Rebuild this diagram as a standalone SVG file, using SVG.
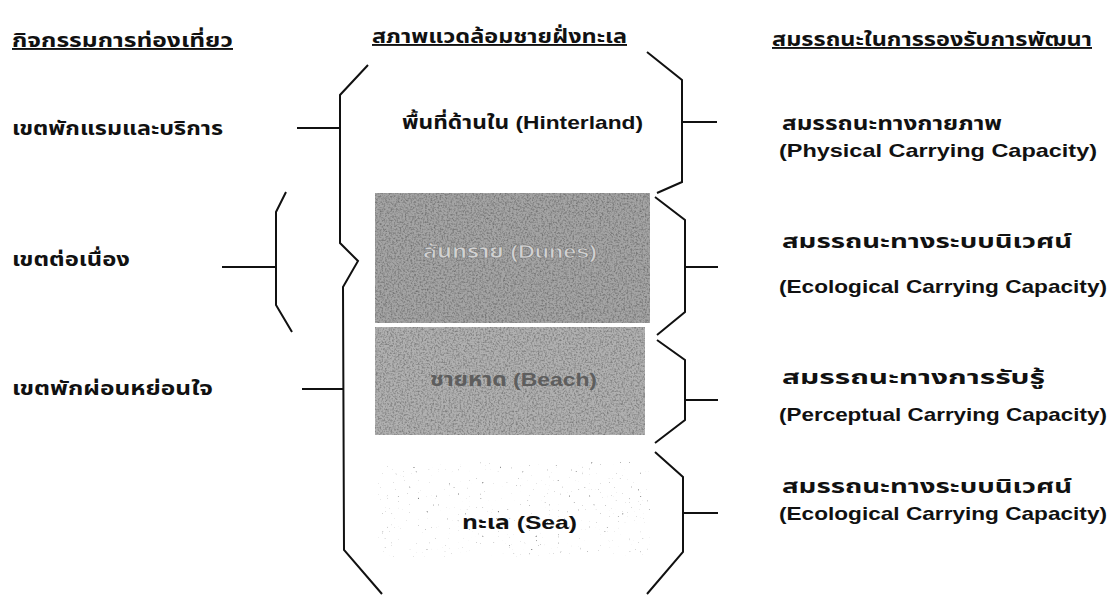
<svg xmlns="http://www.w3.org/2000/svg" width="1109" height="595" viewBox="0 0 1109 595">
<defs>
<style>
.t{font-family:"Liberation Sans","Noto Sans Thai","DejaVu Sans",sans-serif;font-weight:bold;font-size:19px;fill:#111}
.h{text-decoration:underline}
.ln{fill:none;stroke:#111;stroke-width:2;stroke-linejoin:miter}
</style>
<filter id="noise" x="0" y="0" width="100%" height="100%">
<feTurbulence type="fractalNoise" baseFrequency="0.55" numOctaves="2" seed="3" result="n"/>
<feColorMatrix type="matrix" values="0 0 0 0 0  0 0 0 0 0  0 0 0 0 0  1.8 0 0 0 -0.75" in="n" result="a"/>
<feComposite in="a" in2="SourceGraphic" operator="in"/>
</filter>
<filter id="dots" x="0" y="0" width="100%" height="100%">
<feTurbulence type="fractalNoise" baseFrequency="0.45" numOctaves="1" seed="7" result="n"/>
<feColorMatrix type="matrix" values="0 0 0 0 0  0 0 0 0 0  0 0 0 0 0  5 0 0 0 -3.5" in="n" result="a"/>
<feComposite in="a" in2="SourceGraphic" operator="in"/>
</filter>
</defs>
<rect width="1109" height="595" fill="#fff"/>

<g id="headers">
<text class="t h" x="12" y="47" textLength="221" lengthAdjust="spacingAndGlyphs">กิจกรรมการท่องเที่ยว</text>
<text class="t h" x="372" y="43" textLength="255" lengthAdjust="spacingAndGlyphs">สภาพแวดล้อมชายฝั่งทะเล</text>
<text class="t h" x="772" y="46" textLength="320" lengthAdjust="spacingAndGlyphs">สมรรถนะในการรองรับการพัฒนา</text>
</g>

<g id="activity-lodging"><text class="t" x="12" y="135" textLength="211" lengthAdjust="spacingAndGlyphs">เขตพักแรมและบริการ</text></g>
<g id="activity-continuous"><text class="t" x="12" y="266" textLength="118" lengthAdjust="spacingAndGlyphs">เขตต่อเนื่อง</text></g>
<g id="activity-recreation"><text class="t" x="12" y="395" textLength="201" lengthAdjust="spacingAndGlyphs">เขตพักผ่อนหย่อนใจ</text></g>

<g id="hinterland">
<text class="t" x="402" y="129" textLength="241" lengthAdjust="spacingAndGlyphs">พื้นที่ด้านใน (Hinterland)</text>
</g>
<g id="dunes">
<rect x="375" y="193" width="275" height="130" fill="#a4a4a4"/>
<rect x="375" y="193" width="275" height="130" fill="#000" filter="url(#noise)" opacity="0.4"/>
<text class="t" x="423" y="258" textLength="174" lengthAdjust="spacingAndGlyphs" style="fill:#d2d2d2;stroke:#7a7a7a;stroke-width:0.6">สันทราย (Dunes)</text>
</g>
<g id="beach">
<rect x="375" y="327" width="270" height="108" fill="#b0b0b0"/>
<rect x="375" y="327" width="270" height="108" fill="#000" filter="url(#noise)" opacity="0.4"/>
<text class="t" x="430" y="386" textLength="167" lengthAdjust="spacingAndGlyphs" style="fill:#5e5e5e">ชายหาด (Beach)</text>
</g>
<g id="sea">
<rect x="378" y="462" width="272" height="95" fill="#999" filter="url(#dots)" opacity="0.7"/>
<text class="t" x="462" y="529" textLength="115" lengthAdjust="spacingAndGlyphs">ทะเล (Sea)</text>
</g>

<g id="cap-physical">
<text class="t" x="782" y="130" textLength="220" lengthAdjust="spacingAndGlyphs">สมรรถนะทางกายภาพ</text>
<text class="t" x="779" y="157" textLength="318" lengthAdjust="spacingAndGlyphs">(Physical Carrying Capacity)</text>
</g>
<g id="cap-ecological-1">
<text class="t" x="782" y="248" textLength="290" lengthAdjust="spacingAndGlyphs">สมรรถนะทางระบบนิเวศน์</text>
<text class="t" x="779" y="293" textLength="328" lengthAdjust="spacingAndGlyphs">(Ecological Carrying Capacity)</text>
</g>
<g id="cap-perceptual">
<text class="t" x="782" y="384" textLength="263" lengthAdjust="spacingAndGlyphs">สมรรถนะทางการรับรู้</text>
<text class="t" x="779" y="421" textLength="328" lengthAdjust="spacingAndGlyphs">(Perceptual Carrying Capacity)</text>
</g>
<g id="cap-ecological-2">
<text class="t" x="782" y="493" textLength="290" lengthAdjust="spacingAndGlyphs">สมรรถนะทางระบบนิเวศน์</text>
<text class="t" x="779" y="520" textLength="328" lengthAdjust="spacingAndGlyphs">(Ecological Carrying Capacity)</text>
</g>

<g id="connectors">
<path class="ln" d="M368,65 L340,95 L340,243 L358,261 L343,287 L344,550 L382,594"/>
<path class="ln" d="M297,128 H340"/>
<path class="ln" d="M302,389 H344"/>
<path class="ln" d="M286,192 L276,212 L276,305 L292,332"/>
<path class="ln" d="M222,267 H276"/>
<path class="ln" d="M647,52 L682,80 L682,182 L657,193"/>
<path class="ln" d="M682,122 H717"/>
<path class="ln" d="M655,197 L685,220 L685,312 L657,335"/>
<path class="ln" d="M685,267 H718"/>
<path class="ln" d="M657,340 L685,360 L685,420 L655,443"/>
<path class="ln" d="M685,400 H718"/>
<path class="ln" d="M655,452 L683,477 L683,552 L647,594"/>
<path class="ln" d="M683,513 H718"/>
</g>
</svg>
